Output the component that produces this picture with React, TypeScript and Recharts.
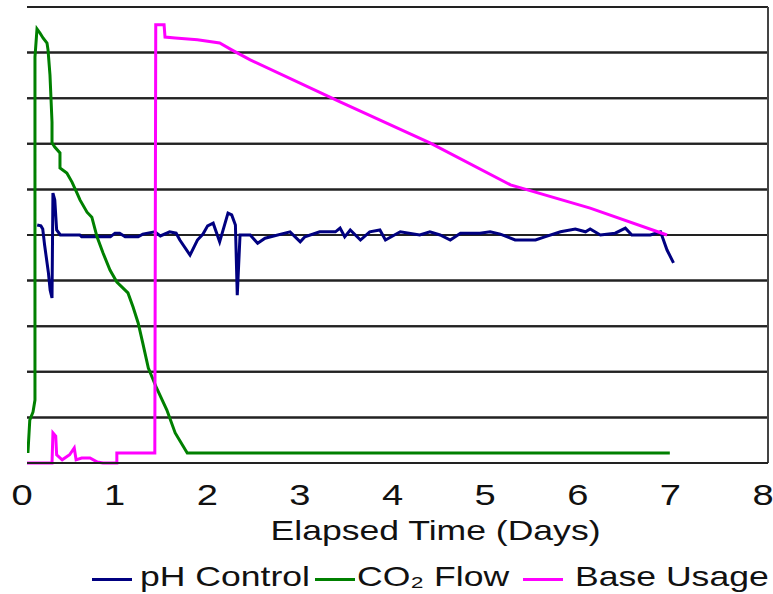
import { LineChart, Line, XAxis, YAxis, CartesianGrid, Legend, ReferenceLine } from 'recharts'

// elapsed time (days) and reading for each trace
const phDays = [
  0.11, 0.15, 0.17, 0.19, 0.23, 0.25, 0.27, 0.28, 0.3, 0.32, 0.36, 0.57, 0.59, 0.9, 0.95, 1.0, 1.06, 1.2,
  1.25, 1.38, 1.44, 1.54, 1.61, 1.65, 1.76, 1.84, 1.9, 1.95, 2.01, 2.08, 2.17, 2.21, 2.25, 2.27, 2.3, 2.41,
  2.49, 2.57, 2.84, 2.95, 3.0, 3.16, 3.33, 3.38, 3.43, 3.49, 3.6, 3.7, 3.81, 3.87, 4.03, 4.24, 4.35, 4.46,
  4.57, 4.68, 4.89, 5.0, 5.11, 5.27, 5.49, 5.59, 5.76, 5.92, 6.03, 6.08, 6.19, 6.35, 6.46, 6.53, 6.73, 6.84,
  6.91, 6.98,
]
const phControl = [
  5.22, 5.2, 5.13, 4.78, 4.19, 3.79, 3.62, 5.92, 5.77, 5.11, 5.0, 5.0, 4.96, 4.96, 5.04, 5.04, 4.96, 4.96,
  5.02, 5.07, 4.98, 5.07, 5.04, 4.89, 4.56, 4.89, 5.02, 5.2, 5.26, 4.85, 5.48, 5.44, 5.22, 3.68, 5.0, 5.0,
  4.82, 4.93, 5.07, 4.85, 4.96, 5.07, 5.07, 5.15, 4.96, 5.11, 4.89, 5.07, 5.11, 4.89, 5.07, 5.0, 5.07, 5.0,
  4.89, 5.04, 5.04, 5.07, 5.02, 4.89, 4.89, 4.96, 5.07, 5.13, 5.07, 5.13, 5.0, 5.04, 5.15, 5.0, 5.0, 5.07,
  4.67, 4.39,
]

const co2Days = [
  0.01, 0.03, 0.065, 0.086, 0.086, 0.108, 0.14, 0.173, 0.216, 0.227, 0.248, 0.27, 0.27, 0.3, 0.356, 0.356,
  0.43, 0.486, 0.54, 0.572, 0.648, 0.7, 0.756, 0.82, 0.896, 0.97, 1.09, 1.145, 1.2, 1.25, 1.31, 1.4, 1.51,
  1.6, 1.73, 6.94,
]
const co2Flow = [
  0.22, 0.94, 1.12, 1.38, 8.9, 9.52, 9.43, 9.32, 9.21, 9.06, 8.51, 7.48, 7.02, 6.93, 6.8, 6.47, 6.36, 6.16,
  5.92, 5.77, 5.5, 5.39, 4.96, 4.61, 4.23, 3.97, 3.73, 3.42, 3.07, 2.63, 2.08, 1.64, 1.16, 0.66, 0.22, 0.22,
]

const baseDays = [
  0, 0.27, 0.28, 0.31, 0.32, 0.38, 0.46, 0.51, 0.53, 0.59, 0.68, 0.76, 0.82, 0.97, 0.97, 1.38, 1.39, 1.48,
  1.49, 1.6, 1.84, 2.08, 2.21, 2.41, 3.38, 4.35, 5.22, 6.08, 6.91,
]
const baseUsage = [
  0, 0, 0.66, 0.59, 0.18, 0.07, 0.18, 0.33, 0.07, 0.11, 0.11, 0.02, 0, 0, 0.22, 0.22, 9.61, 9.61, 9.34, 9.32,
  9.28, 9.21, 9.06, 8.84, 7.92, 7.02, 6.1, 5.59, 5.0,
]

const dayTicks = [0, 1, 2, 3, 4, 5, 6, 7, 8]
const gridTicks = [0, 1, 2, 3, 4, 5, 6, 7, 8, 9, 10]
const seriesNames = ['pH Control', 'CO₂ Flow', 'Base Usage']

const toPoints = (days: number[], vals: number[]) => days.map((d, i) => ({ d, v: vals[i] }))

const FONT = '"Liberation Sans", Arial, sans-serif'
const STRETCH = 1.27

function DayTick({ x, y, payload }: any) {
  return (
    <g transform={`translate(${x - 5},${y + 42})`}>
      <text transform={`scale(${STRETCH},1)`} textAnchor="middle" fontSize={30} fill="#111" fontFamily={FONT}>
        {payload.value}
      </text>
    </g>
  )
}

function AxisTitle({ viewBox }: any) {
  const cx = viewBox.x + viewBox.width / 2 + 38
  return (
    <g transform={`translate(${cx},${viewBox.y + 77})`}>
      <text transform={`scale(${STRETCH},1)`} textAnchor="middle" fontSize={28} fill="#111" fontFamily={FONT}>
        Elapsed Time (Days)
      </text>
    </g>
  )
}

// where each legend swatch and label starts, in px
const legendSpots = [
  { line: 92, text: 140 },
  { line: 315, text: 357 },
  { line: 523, text: 575 },
]

function ChartLegend({ payload }: any) {
  const items = [...(payload || [])].sort(
    (a: any, b: any) => seriesNames.indexOf(a.value) - seriesNames.indexOf(b.value),
  )
  return (
    <div style={{ position: 'relative', width: 773, height: 38, fontFamily: FONT }}>
      {items.map((p: any, i: number) => {
        const spot = legendSpots[i]
        return (
          <div key={p.value}>
            <div
              style={{ position: 'absolute', left: spot.line, top: 21.5, width: 40, height: 3, background: p.color }}
            />
            <div
              style={{
                position: 'absolute',
                left: spot.text,
                top: 7,
                fontSize: 28,
                lineHeight: '28px',
                color: '#111',
                whiteSpace: 'nowrap',
                transform: `scaleX(${STRETCH})`,
                transformOrigin: 'left center',
              }}
            >
              {p.value}
            </div>
          </div>
        )
      })}
    </div>
  )
}

export default function App() {
  return (
    <div style={{ position: 'absolute', left: 0, top: 0, background: '#fff' }}>
      <LineChart width={773} height={594} margin={{ top: 7, right: 5, left: 27, bottom: 0 }}>
        <CartesianGrid vertical={false} stroke="#222" strokeWidth={2} />
        <XAxis
          type="number"
          dataKey="d"
          domain={[0, 8]}
          ticks={dayTicks}
          allowDataOverflow
          height={93}
          tickSize={0}
          tickMargin={0}
          tickLine={false}
          axisLine={{ stroke: '#222', strokeWidth: 2 }}
          tick={<DayTick />}
          label={<AxisTitle />}
        />
        <YAxis
          type="number"
          domain={[0, 10]}
          ticks={gridTicks}
          interval={0}
          width={0}
          tick={() => <g />}
          tickLine={false}
          axisLine={{ stroke: '#222', strokeWidth: 2 }}
        />
        {gridTicks.map((t) => (
          <ReferenceLine key={t} y={t} stroke="#222" strokeWidth={2} />
        ))}
        <ReferenceLine x={8} stroke="#444" strokeWidth={2} />
        <Legend
          verticalAlign="bottom"
          height={38}
          wrapperStyle={{ left: 0, width: 773 }}
          content={<ChartLegend />}
        />
        <Line
          data={toPoints(phDays, phControl)}
          dataKey="v"
          name={seriesNames[0]}
          stroke="#000080"
          strokeWidth={3}
          dot={false}
          isAnimationActive={false}
        />
        <Line
          data={toPoints(co2Days, co2Flow)}
          dataKey="v"
          name={seriesNames[1]}
          stroke="#008000"
          strokeWidth={3}
          dot={false}
          isAnimationActive={false}
        />
        <Line
          data={toPoints(baseDays, baseUsage)}
          dataKey="v"
          name={seriesNames[2]}
          stroke="#ff00ff"
          strokeWidth={3}
          dot={false}
          isAnimationActive={false}
        />
      </LineChart>
    </div>
  )
}
